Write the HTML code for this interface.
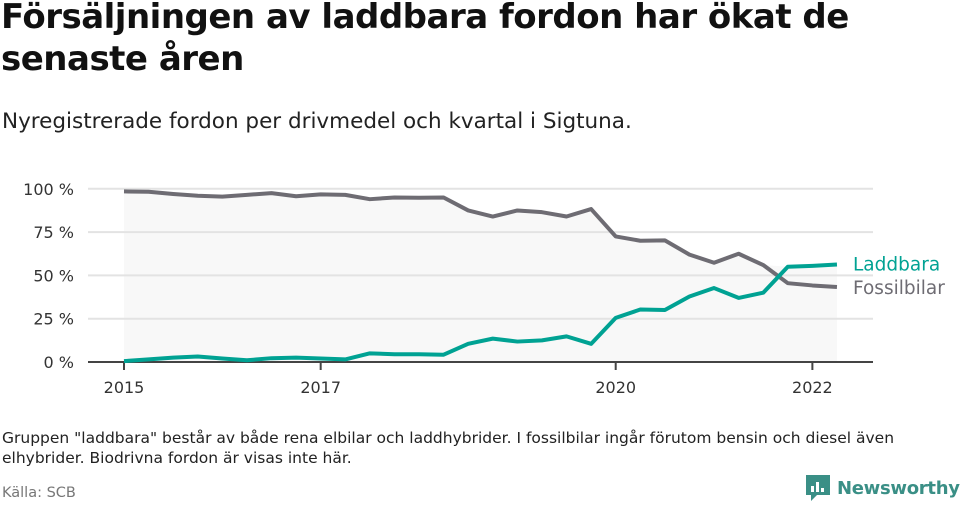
<!DOCTYPE html>
<html><head><meta charset="utf-8"><style>
body{margin:0;width:960px;height:505px;background:#fff;font-family:"DejaVu Sans","Liberation Sans",sans-serif;color:#111;position:relative;overflow:hidden}
.t{position:absolute;left:1px;top:-4px;font-size:34px;font-weight:bold;line-height:42px;margin:0;letter-spacing:-0.5px}
.s{position:absolute;left:2px;top:109px;font-size:21.5px;color:#222}
.n{position:absolute;left:2px;top:428px;font-size:15.5px;line-height:20px;color:#222;width:950px}
.src{position:absolute;left:2px;top:485px;font-size:14.5px;color:#777}
.logo{position:absolute;left:805px;top:474px;display:flex;align-items:center;gap:6px;font-size:18px;font-weight:bold;color:#3a8f86;letter-spacing:-0.3px}
</style></head><body>
<h1 class="t">Försäljningen av laddbara fordon har ökat de<br>senaste åren</h1>
<div class="s">Nyregistrerade fordon per drivmedel och kvartal i Sigtuna.</div>
<svg id="c" width="960" height="505" style="position:absolute;left:0;top:0"></svg>
<div class="n">Gruppen "laddbara" består av både rena elbilar och laddhybrider. I fossilbilar ingår förutom bensin och diesel även<br>elhybrider. Biodrivna fordon är visas inte här.</div>
<div class="src">Källa: SCB</div>
<div class="logo"><svg width="26" height="28" viewBox="0 0 26 28"><path d="M1 1h24v20H12l-6 6v-6H1z" fill="#3a8f86"/><rect x="6" y="12" width="3" height="6" fill="#fff"/><rect x="11" y="8" width="3" height="10" fill="#fff"/><rect x="16" y="14" width="3" height="4" fill="#fff"/></svg><span>Newsworthy</span></div>
<script>
const quarters=["2015Q1","2015Q2","2015Q3","2015Q4","2016Q1","2016Q2","2016Q3","2016Q4","2017Q1","2017Q2","2017Q3","2017Q4","2018Q1","2018Q2","2018Q3","2018Q4","2019Q1","2019Q2","2019Q3","2019Q4","2020Q1","2020Q2","2020Q3","2020Q4","2021Q1","2021Q2","2021Q3","2021Q4","2022Q1","2022Q2"];
const fossil=[98.5,98.3,97,96,95.5,96.5,97.5,95.7,96.8,96.5,94,95,94.8,95,87.5,84,87.5,86.5,84,88.3,72.5,70,70.2,62,57.3,62.5,56,45.5,44.2,43.3];
const laddbara=[0.5,1.5,2.5,3.2,2,1,2.2,2.5,2,1.5,5,4.5,4.5,4.2,10.5,13.5,11.8,12.5,14.8,10.5,25.5,30.3,30,37.8,42.7,37,40,55,55.5,56.3];
const yTicks=[0,25,50,75,100];
const xTickLabels=["2015","2017","2020","2022"];
const xTickIdx=[0,8,20,28];
const NS="http://www.w3.org/2000/svg",svg=document.getElementById('c');
const x=i=>124+i*24.585, y=v=>362-v*1.732;
function mk(t,a,p){const e=document.createElementNS(NS,t);for(const k in a)e.setAttribute(k,a[k]);(p||svg).appendChild(e);return e;}
let pts=quarters.map((q,i)=>x(i)+','+y(Math.max(fossil[i],laddbara[i])));
pts.push(x(quarters.length-1)+','+y(0),x(0)+','+y(0));
const ar=mk('polygon',{points:pts.join(' '),fill:'#f8f8f8'});


yTicks.forEach(v=>{
 const l=mk('line',{x1:88,x2:873,y1:y(v),y2:y(v),stroke:v===0?'#444':'#e3e3e3','stroke-width':2});
 
 
 const t=mk('text',{x:74,y:y(v)+6,'text-anchor':'end','font-size':16,fill:'#333'});t.textContent=v+' %';
 
 
});
const ax=mk('line',{x1:88,x2:873,y1:y(0),y2:y(0),stroke:'#444','stroke-width':2});


xTickIdx.forEach((ix,k)=>{
 const tk=mk('line',{x1:x(ix),x2:x(ix),y1:y(0),y2:y(0)+8,stroke:'#444','stroke-width':2});
 
 
 const t=mk('text',{x:x(ix),y:393,'text-anchor':'middle','font-size':16,fill:'#333'});t.textContent=xTickLabels[k];
 
 
});
function line(d,col,name,label,dy){
 const p=mk('polyline',{points:d.map((v,i)=>x(i)+','+y(v)).join(' '),fill:'none',stroke:col,'stroke-width':4,'stroke-linejoin':'round'});
 
 
 const t=mk('text',{x:853,y:y(d[d.length-1])+dy,'font-size':18.5,fill:col});t.textContent=label;
 
 
}
line(fossil,'#6e6c73','fossilbilar-line','Fossilbilar',7);
line(laddbara,'#00a293','laddbara-line','Laddbara',6);
</script>
</body></html>
